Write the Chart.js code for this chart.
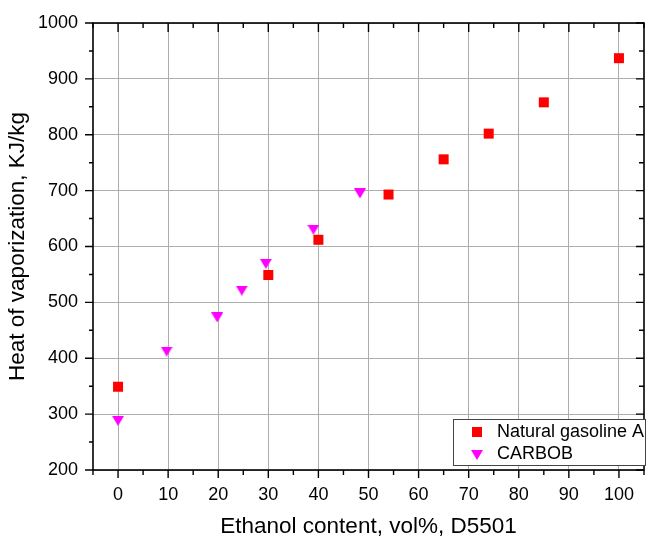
<!DOCTYPE html>
<html>
<head>
<meta charset="utf-8">
<script src="https://cdn.jsdelivr.net/npm/chart.js@4.4.0/dist/chart.umd.min.js"></script>
<style>
  html, body { margin: 0; padding: 0; background: #fff; overflow: hidden; width: 648px; height: 537px; }
  #wrap { position: relative; width: 648px; height: 537px; overflow: hidden; }
  #wrap canvas { position: absolute; left: 0; top: 0; display: block; }
</style>
</head>
<body>
<div id="wrap">
<canvas id="chart" width="652" height="540" style="width:652px;height:540px;"></canvas>
</div>
<script>
// tick labels
const xTicks = [0, 10, 20, 30, 40, 50, 60, 70, 80, 90, 100];
const yTicks = [200, 300, 400, 500, 600, 700, 800, 900, 1000];

// Natural gasoline A
const ethanolA = [0, 30, 40, 54, 65, 74, 85, 100];
const heatA = [349, 549, 612, 693, 756, 802, 858, 937];

// CARBOB
const ethanolC = [0, 9.7, 19.8, 24.7, 29.5, 39, 48.3];
const heatC = [288, 412, 473, 521, 569, 630, 695];

const seriesNames = ["Natural gasoline A", "CARBOB"];

const FONT = "'Liberation Sans', Arial, sans-serif";

// downward triangle marker, centred on its bounding box
function makeTriangle(w, h, color) {
  const c = document.createElement("canvas");
  c.width = w; c.height = h;
  const g = c.getContext("2d");
  g.fillStyle = color;
  g.beginPath();
  g.moveTo(0, 0);
  g.lineTo(w, 0);
  g.lineTo(w / 2, h);
  g.closePath();
  g.fill();
  return c;
}
const triMarker = makeTriangle(12, 10, "#ff00ff");

const framePlugin = {
  id: "frame",
  afterDraw(chart) {
    const { ctx, chartArea: a, scales: { x, y } } = chart;
    ctx.save();
    ctx.strokeStyle = "#000";
    ctx.lineWidth = 1.6;
    ctx.strokeRect(a.left, a.top, a.right - a.left, a.bottom - a.top);

    ctx.lineWidth = 1.4;
    ctx.beginPath();
    for (let v = -5; v <= 105; v += 5) {
      const px = x.getPixelForValue(v);
      const major = v % 10 === 0;
      ctx.moveTo(px, a.bottom);
      ctx.lineTo(px, a.bottom + (major ? 8 : 5));
      ctx.moveTo(px, a.top);
      ctx.lineTo(px, a.top + (major ? 9 : 5));
    }
    for (let v = 200; v <= 1000; v += 50) {
      const py = y.getPixelForValue(v);
      const major = v % 100 === 0;
      ctx.moveTo(a.left, py);
      ctx.lineTo(a.left - (major ? 8 : 4), py);
      ctx.moveTo(a.right, py);
      ctx.lineTo(a.right - (major ? 8 : 5), py);
    }
    ctx.stroke();

    // legend box
    const bx = 453.5, by = 419.5, bw = 192, bh = 46;
    ctx.fillStyle = "#fff";
    ctx.fillRect(bx, by, bw, bh);
    ctx.strokeStyle = "#444";
    ctx.lineWidth = 1;
    ctx.strokeRect(bx, by, bw, bh);

    ctx.fillStyle = "#ff0000";
    ctx.fillRect(472, 427, 10, 10);
    ctx.drawImage(triMarker, 471, 450);

    ctx.fillStyle = "#000";
    ctx.font = "18px " + FONT;
    ctx.textBaseline = "middle";
    ctx.textAlign = "left";
    ctx.fillText(seriesNames[0], 497, 432);
    ctx.fillText(seriesNames[1], 497, 454);
    ctx.restore();
  }
};

new Chart(document.getElementById("chart"), {
  type: "scatter",
  data: {
    datasets: [
      {
        label: seriesNames[0],
        data: ethanolA.map((v, i) => ({ x: v, y: heatA[i] })),
        pointStyle: "rect",
        pointRadius: 7.07,
        pointBorderWidth: 0,
        backgroundColor: "#ff0000",
        borderColor: "#ff0000"
      },
      {
        label: seriesNames[1],
        data: ethanolC.map((v, i) => ({ x: v, y: heatC[i] })),
        pointStyle: triMarker,
        pointRadius: 7,
        backgroundColor: "#ff00ff",
        borderColor: "#ff00ff"
      }
    ]
  },
  options: {
    responsive: false,
    animation: false,
    layout: { padding: { top: 23, right: 0, left: 0, bottom: 0 } },
    plugins: {
      legend: { display: false },
      tooltip: { enabled: false }
    },
    scales: {
      x: {
        type: "linear",
        min: -5,
        max: 105,
        afterBuildTicks: s => { s.ticks = xTicks.map(v => ({ value: v })); },
        afterFit: s => { s.height = 70; s.paddingLeft = 0; s.paddingRight = 0; },
        grid: { color: "#adadad", lineWidth: 1, drawTicks: false },
        border: { display: false },
        ticks: {
          color: "#000",
          padding: 14,
          maxRotation: 0,
          callback: v => String(v),
          font: { family: FONT, size: 18 }
        },
        title: {
          display: true,
          text: "Ethanol content, vol%, D5501",
          color: "#000",
          padding: { top: 0, bottom: 0 },
          font: { family: FONT, size: 22.5 }
        }
      },
      y: {
        type: "linear",
        min: 200,
        max: 1000,
        afterBuildTicks: s => { s.ticks = yTicks.map(v => ({ value: v })); },
        afterFit: s => { s.width = 93; s.paddingTop = 0; s.paddingBottom = 0; },
        grid: { color: "#adadad", lineWidth: 1, drawTicks: false },
        border: { display: false },
        ticks: {
          color: "#000",
          padding: 15,
          callback: v => String(v),
          font: { family: FONT, size: 18 }
        },
        title: {
          display: true,
          text: "Heat of vaporization, KJ/kg",
          color: "#000",
          padding: { top: 4, bottom: 0 },
          font: { family: FONT, size: 22.5 }
        }
      }
    }
  },
  plugins: [framePlugin]
});
</script>
</body>
</html>
